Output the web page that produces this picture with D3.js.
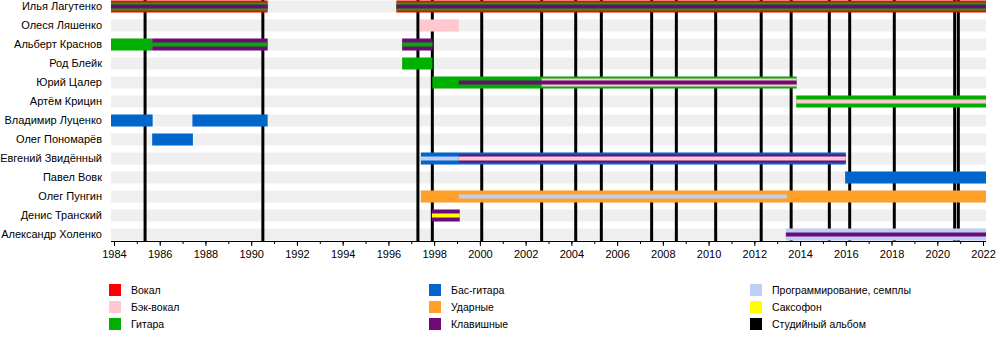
<!DOCTYPE html>
<html><head><meta charset="utf-8">
<script src="https://cdn.jsdelivr.net/npm/d3@7"></script>
<style>
html,body{margin:0;padding:0;background:#fff;}
svg{display:block;font-family:"Liberation Sans",Arial,sans-serif;}
</style></head>
<body><svg id="c" width="1000" height="360"></svg>
<script>
const members = ["Илья Лагутенко","Олеся Ляшенко","Альберт Краснов","Род Блейк","Юрий Цалер","Артём Крицин","Владимир Луценко","Олег Пономарёв","Евгений Звидённый","Павел Вовк","Олег Пунгин","Денис Транский","Александр Холенко"];

const roles = ["Вокал","Бэк-вокал","Гитара","Бас-гитара","Ударные","Клавишные","Программирование, семплы","Саксофон","Студийный альбом"];
const roleColors = ["#ff0000","#ffc8d0","#00b000","#0066cc","#ffa02a","#6e0a78","#c0cef5","#ffff00","#000000"];

// [member index, role index, start year, end year, layer (0 outer, 1 middle, 2 inner)]
const periodStart = 1983.87, periodEnd = 2022.13;
const segments = [
  [0,0,1983.87,1990.72,0],[0,2,1983.87,1990.72,1],[0,5,1983.87,1990.72,2],
  [0,0,1996.35,2022.13,0],[0,2,1996.35,2022.13,1],[0,5,1996.35,2022.13,2],
  [1,1,1997.38,1999.08,0],
  [2,2,1983.87,1985.67,0],
  [2,5,1985.67,1990.72,0],[2,2,1985.67,1990.72,2],
  [2,5,1996.6,1997.93,0],[2,2,1996.6,1997.93,2],
  [3,2,1996.6,1997.93,0],
  [4,2,1997.92,2013.85,0],[4,1,2002.7,2013.85,1],[4,5,1999.08,2013.85,2],
  [5,2,2013.83,2022.13,0],[5,1,2013.83,2022.13,2],
  [6,3,1983.87,1985.69,0],[6,3,1987.43,1990.72,0],
  [7,3,1985.67,1987.45,0],
  [8,3,1997.42,2016.0,0],[8,6,1997.42,1999.08,2],[8,5,1999.08,2016.0,1],[8,1,1999.08,2016.0,2],
  [9,3,2015.97,2022.13,0],
  [10,4,1997.42,2022.13,0],[10,6,1999.08,2013.42,2],
  [11,5,1997.9,1999.12,0],[11,7,1997.9,1999.12,2],
  [12,6,2013.38,2022.13,0],[12,5,2013.38,2022.13,2]
];

const albums = [1985.36,1990.51,1997.29,1997.92,2000.08,2002.70,2004.19,2005.31,2007.51,2008.59,2010.31,2012.30,2013.61,2015.28,2016.17,2018.12,2020.76,2020.92];

const tickYears = d3.range(1984, 2023, 2);
const minorYears = d3.range(1984, 2023, 1);

const legendRows = [[0,1,2],[3,4,5],[6,7,8]]; // columns of role indices

const svg = d3.select("#c");
const x = d3.scaleLinear().domain([periodStart, periodEnd]).range([111, 986]);
const y = d3.scalePoint().domain(d3.range(members.length)).range([6.5, 234.5]);
const layerH = [12, 8, 4];
const axisY = 241;

// row backgrounds
svg.append("g").selectAll("rect").data(members).join("rect")
  .attr("x", x(periodStart)).attr("width", x(periodEnd)-x(periodStart))
  .attr("y", (d,i)=>y(i)-6).attr("height", 12).attr("fill", "#efefef");

// album lines
svg.append("g").selectAll("line").data(albums).join("line")
  .attr("x1", d=>x(d)).attr("x2", d=>x(d))
  .attr("y1", 0).attr("y2", axisY)
  .attr("stroke", "#000").attr("stroke-width", 3);

// bars
const sorted = segments.slice().sort((a,b)=>a[4]-b[4]);
svg.append("g").selectAll("rect").data(sorted).join("rect")
  .attr("x", d=>x(d[2])).attr("width", d=>x(d[3])-x(d[2]))
  .attr("y", d=>y(d[0])-layerH[d[4]]/2).attr("height", d=>layerH[d[4]])
  .attr("fill", d=>roleColors[d[1]]);

// labels
svg.append("g").selectAll("text").data(members).join("text")
  .attr("x", 102).attr("y", (d,i)=>y(i)).attr("dy", "0.35em")
  .attr("text-anchor", "end").attr("font-size", 11).attr("fill", "#000")
  .text(d=>d);

// axis
const axisG = svg.append("g").attr("transform", `translate(0,${axisY})`);
axisG.append("g").call(d3.axisBottom(x).tickValues(minorYears).tickSize(3).tickFormat("").tickSizeOuter(0))
  .call(g=>g.select(".domain").remove());
axisG.append("g").call(d3.axisBottom(x).tickValues(tickYears).tickSize(5).tickPadding(4).tickFormat(d3.format("d")).tickSizeOuter(0))
  .call(g=>g.selectAll("text").attr("font-size", 11).attr("fill","#000").attr("font-family","'Liberation Sans',Arial,sans-serif"))
  .call(g=>g.select(".domain").attr("d", `M${x(periodStart)},0.5H${x(periodEnd)}`));

// legend
const colX = [109, 429, 750];
legendRows.forEach((col, ci)=>{
  col.forEach((r, ri)=>{
    const g = svg.append("g").attr("transform", `translate(${colX[ci]},${284 + ri*17})`);
    g.append("rect").attr("width", 12).attr("height", 12).attr("fill", roleColors[r]);
    g.append("text").attr("x", 22).attr("y", 6).attr("dy", "0.35em")
      .attr("font-size", 10.5).attr("fill", "#000").text(roles[r]);
  });
});
</script></body></html>
